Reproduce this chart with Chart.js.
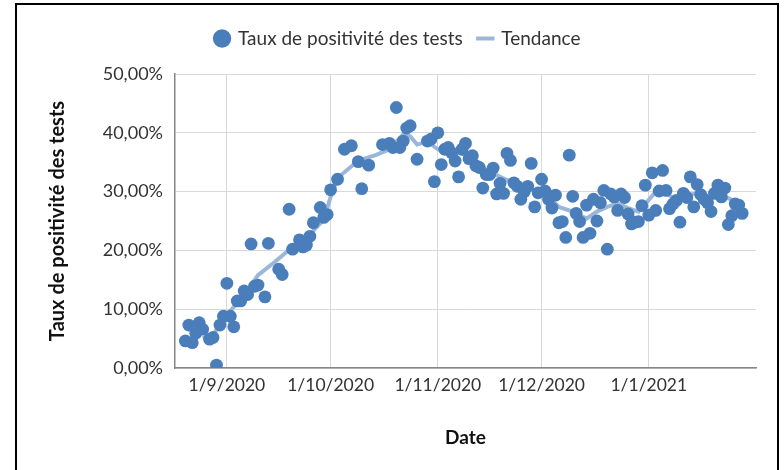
<!DOCTYPE html>
<html>
<head>
<meta charset="utf-8">
<title>Taux de positivité des tests</title>
<script src="https://cdn.jsdelivr.net/npm/chart.js@4.4.1/dist/chart.umd.min.js"></script>
<style>
  html, body { margin: 0; padding: 0; background: #fff; }
  #wrap { position: relative; width: 784px; height: 470px; overflow: hidden; }
  #frame { position: absolute; left: 15px; top: 3px; width: 764px; height: 490px; border: 2px solid #000; box-sizing: border-box; pointer-events: none; }
</style>
</head>
<body>
<div id="wrap">
  <canvas id="chart" width="784" height="470"></canvas>
  <div id="frame"></div>
</div>
<script>
// Daily test positivity (%)
const dates = [
  '2020-08-20', '2020-08-21', '2020-08-22', '2020-08-23', '2020-08-24', '2020-08-25', '2020-08-27', '2020-08-28',
  '2020-08-29', '2020-08-30', '2020-08-31', '2020-09-01', '2020-09-02', '2020-09-03', '2020-09-04', '2020-09-05',
  '2020-09-06', '2020-09-07', '2020-09-08', '2020-09-09', '2020-09-10', '2020-09-12', '2020-09-13', '2020-09-16',
  '2020-09-17', '2020-09-19', '2020-09-20', '2020-09-22', '2020-09-23', '2020-09-24', '2020-09-25', '2020-09-26',
  '2020-09-28', '2020-09-29', '2020-09-30', '2020-10-01', '2020-10-03', '2020-10-05', '2020-10-07', '2020-10-09',
  '2020-10-10', '2020-10-12', '2020-10-16', '2020-10-18', '2020-10-19', '2020-10-20', '2020-10-21', '2020-10-22',
  '2020-10-23', '2020-10-24', '2020-10-26', '2020-10-29', '2020-10-30', '2020-10-31', '2020-11-01', '2020-11-02',
  '2020-11-03', '2020-11-04', '2020-11-05', '2020-11-06', '2020-11-07', '2020-11-08', '2020-11-09', '2020-11-10',
  '2020-11-11', '2020-11-12', '2020-11-13', '2020-11-14', '2020-11-15', '2020-11-16', '2020-11-17', '2020-11-18',
  '2020-11-19', '2020-11-20', '2020-11-21', '2020-11-22', '2020-11-23', '2020-11-24', '2020-11-25', '2020-11-26',
  '2020-11-27', '2020-11-28', '2020-11-29', '2020-11-30', '2020-12-01', '2020-12-02', '2020-12-03', '2020-12-04',
  '2020-12-05', '2020-12-06', '2020-12-07', '2020-12-08', '2020-12-09', '2020-12-10', '2020-12-11', '2020-12-12',
  '2020-12-13', '2020-12-14', '2020-12-15', '2020-12-16', '2020-12-17', '2020-12-18', '2020-12-19', '2020-12-20',
  '2020-12-21', '2020-12-22', '2020-12-23', '2020-12-24', '2020-12-25', '2020-12-26', '2020-12-27', '2020-12-28',
  '2020-12-29', '2020-12-30', '2020-12-31', '2021-01-01', '2021-01-02', '2021-01-03', '2021-01-04', '2021-01-05',
  '2021-01-06', '2021-01-07', '2021-01-08', '2021-01-09', '2021-01-10', '2021-01-11', '2021-01-12', '2021-01-13',
  '2021-01-14', '2021-01-15', '2021-01-16', '2021-01-17', '2021-01-18', '2021-01-19', '2021-01-20', '2021-01-21',
  '2021-01-22', '2021-01-23', '2021-01-24', '2021-01-25', '2021-01-26', '2021-01-27', '2021-01-28'
];
const positivity = [
  4.6, 7.3, 4.3, 5.9, 7.7, 6.6, 4.9, 5.2,
  0.5, 7.3, 8.8, 14.4, 8.8, 7.0, 11.4, 11.4,
  13.1, 12.5, 21.1, 13.9, 14.1, 12.1, 21.2, 16.8,
  15.9, 27.0, 20.2, 21.8, 20.6, 20.9, 22.4, 24.7,
  27.3, 25.6, 26.1, 30.3, 32.1, 37.2, 37.8, 35.1,
  30.5, 34.5, 38.0, 38.2, 37.5, 44.3, 37.5, 38.6,
  40.8, 41.2, 35.5, 38.6, 38.9, 31.7, 40.0, 34.6,
  37.2, 37.5, 36.6, 35.2, 32.5, 37.2, 38.2, 35.6,
  36.1, 34.4, 34.1, 30.6, 32.9, 32.9, 34.0, 29.6,
  31.4, 29.7, 36.5, 35.3, 31.5, 30.9, 28.7, 30.0,
  30.9, 34.8, 27.4, 29.8, 32.1, 30.1, 28.7, 27.2,
  29.4, 24.7, 24.9, 22.2, 36.2, 29.2, 26.3, 24.9,
  22.2, 27.7, 22.9, 28.7, 25.0, 28.1, 30.2, 20.2,
  29.6, 29.1, 26.8, 29.6, 29.0, 26.2, 24.5, 24.8,
  24.9, 27.6, 31.1, 26.0, 33.2, 26.8, 30.1, 33.6,
  30.2, 27.1, 27.9, 28.5, 24.8, 29.7, 29.0, 32.5,
  27.4, 31.2, 29.5, 28.7, 28.1, 26.6, 29.7, 31.1,
  29.1, 30.6, 24.4, 25.9, 27.9, 27.7, 26.3
];

// Trend line (moving average)
const trendDates = [
  '2020-08-25', '2020-08-28', '2020-08-31', '2020-09-03', '2020-09-07', '2020-09-10', '2020-09-15', '2020-09-20',
  '2020-09-24', '2020-09-29', '2020-10-01', '2020-10-03', '2020-10-09', '2020-10-14', '2020-10-18', '2020-10-19',
  '2020-10-22', '2020-10-24', '2020-10-26', '2020-10-29', '2020-11-01', '2020-11-04', '2020-11-08', '2020-11-11',
  '2020-11-15', '2020-11-19', '2020-11-23', '2020-11-26', '2020-11-30', '2020-12-03', '2020-12-06', '2020-12-10',
  '2020-12-14', '2020-12-17', '2020-12-20', '2020-12-23', '2020-12-26', '2020-12-29', '2021-01-01', '2021-01-03',
  '2021-01-06', '2021-01-09', '2021-01-12', '2021-01-15', '2021-01-18', '2021-01-22', '2021-01-25', '2021-01-28'
];
const trendValues = [
  5.1, 5.6, 8.2, 10.4, 13.2, 15.8, 18.1, 20.6,
  22.1, 25.2, 29.1, 32.3, 35.3, 36.2, 37.2, 37.9,
  39.7, 39.4, 38.0, 38.5, 37.2, 36.8, 36.5, 35.4,
  33.7, 32.5, 31.4, 30.6, 30.0, 29.1, 27.4, 26.6,
  25.4, 26.6, 27.4, 28.0, 27.2, 26.6, 28.6, 30.0,
  29.7, 28.6, 29.4, 29.7, 29.1, 29.4, 28.6, 27.4
];

const tickDates = ['2020-09-01', '2020-10-01', '2020-11-01', '2020-12-01', '2021-01-01'];
const tickLabels = ['1/9/2020', '1/10/2020', '1/11/2020', '1/12/2020', '1/1/2021'];
const axisStart = '2020-08-17';
const axisEnd = '2021-02-01';

const toDay = d => Date.parse(d) / 864e5;

const font = 'Lato';

// leave some room between the legend and the plot
const legendGap = {
    id: 'legendGap',
    beforeInit(chart) {
        const fit = chart.legend.fit;
        chart.legend.fit = function () {
            fit.call(this);
            this.height += 16;
        };
    }
};

const ctx = document.getElementById('chart').getContext('2d');
const chart = new Chart(ctx, {
    type: 'scatter',
    data: {
        datasets: [{
            label: 'Taux de positivité des tests',
            data: dates.map((d, i) => ({ x: toDay(d), y: positivity[i] })),
            backgroundColor: '#4A7EBB',
            borderWidth: 0,
            pointRadius: 6.4,
            pointStyle: 'circle',
            order: 0
        }, {
            label: 'Tendance',
            data: trendDates.map((d, i) => ({ x: toDay(d), y: trendValues[i] })),
            showLine: true,
            borderColor: '#9AB6DB',
            backgroundColor: '#9AB6DB',
            borderWidth: 4,
            pointRadius: 0,
            pointStyle: 'line',
            tension: 0,
            order: 1
        }]
    },
    options: {
        responsive: false,
        animation: false,
        layout: {
            padding: { top: 13, left: 40, right: 28, bottom: 0 }
        },
        plugins: {
            legend: {
                position: 'top',
                labels: {
                    usePointStyle: true,
                    boxWidth: 13,
                    boxHeight: 13,
                    padding: 16,
                    color: '#333',
                    font: { family: font, size: 19 }
                }
            },
            tooltip: { enabled: false }
        },
        scales: {
            x: {
                type: 'linear',
                min: toDay(axisStart),
                max: toDay(axisEnd),
                afterBuildTicks: scale => {
                    scale.ticks = tickDates.map(d => ({ value: toDay(d) }));
                },
                afterFit: scale => { scale.height = 102; },
                ticks: {
                    autoSkip: false,
                    maxRotation: 0,
                    padding: 7,
                    color: '#333',
                    font: { family: font, size: 17.5 },
                    callback: (value, index) => tickLabels[index]
                },
                grid: { color: '#D9D9D9', drawTicks: false },
                border: { color: '#868686', width: 1.5 },
                title: {
                    display: true,
                    text: 'Date',
                    color: '#111',
                    font: { family: font, size: 19, weight: 'bold' },
                    padding: { top: 4, bottom: 21 }
                }
            },
            y: {
                min: 0,
                max: 50,
                afterFit: scale => { scale.width = 135; },
                ticks: {
                    stepSize: 10,
                    padding: 12,
                    color: '#333',
                    font: { family: font, size: 18 },
                    callback: value => value.toFixed(2).replace('.', ',') + '%'
                },
                grid: { color: '#D9D9D9', drawTicks: false },
                border: { color: '#868686', width: 1.5 },
                title: {
                    display: true,
                    text: 'Taux de positivité des tests',
                    color: '#111',
                    font: { family: font, size: 20, weight: 'bold' },
                    padding: { top: 6, bottom: 4 }
                }
            }
        }
    },
    plugins: [legendGap]
});
</script>
</body>
</html>
